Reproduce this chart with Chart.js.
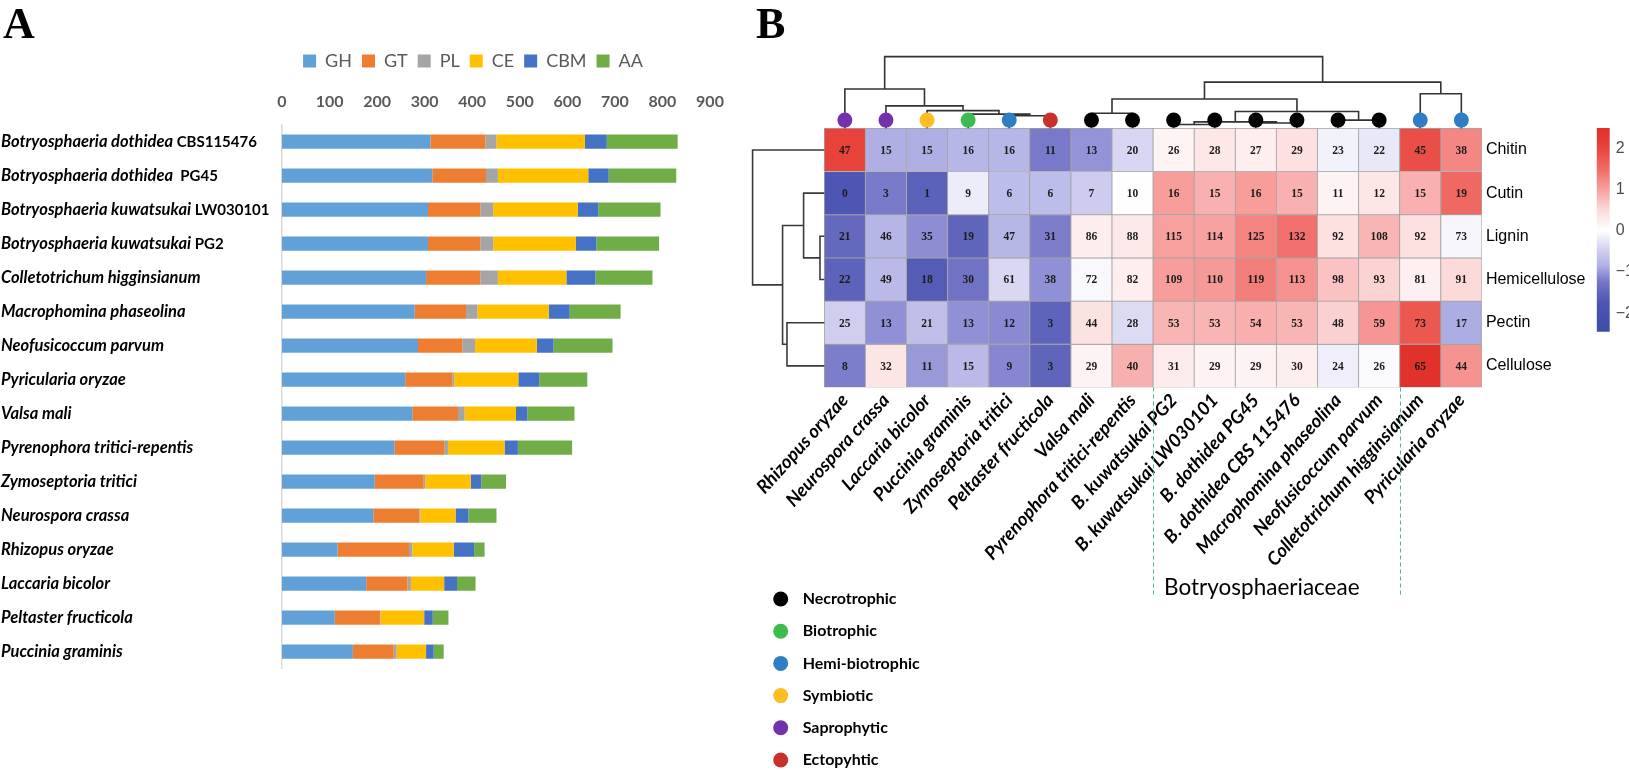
<!DOCTYPE html>
<html><head><meta charset="utf-8">
<script src="https://cdn.jsdelivr.net/npm/chart.js@4.4.1/dist/chart.umd.min.js"></script>
<style>
body{margin:0;background:#fff;width:1629px;height:770px;overflow:hidden;position:relative}
canvas{position:absolute}
</style>
</head><body>
<canvas id="cA" width="740" height="770" style="left:0;top:0"></canvas>
<canvas id="cB" width="889" height="770" style="left:740px;top:0"></canvas>
<canvas id="cC" width="39" height="260" style="left:1590px;top:100px"></canvas>
<canvas id="cD" width="260" height="215" style="left:740px;top:555px"></canvas>
<script>
// ---------- Panel A data ----------
const genomeSpecies = ["Botryosphaeria dothidea","Botryosphaeria dothidea","Botryosphaeria kuwatsukai","Botryosphaeria kuwatsukai","Colletotrichum higginsianum","Macrophomina phaseolina","Neofusicoccum parvum","Pyricularia oryzae","Valsa mali","Pyrenophora tritici-repentis","Zymoseptoria tritici","Neurospora crassa","Rhizopus oryzae","Laccaria bicolor","Peltaster fructicola","Puccinia graminis"];
const genomeStrain = [" CBS115476","  PG45"," LW030101"," PG2","","","","","","","","","","","",""];
const cazyFamilies = ["GH","GT","PL","CE","CBM","AA"];
const GH  = [312,316,307,307,303,279,286,259,274,237,195,192,117,177,111,149];
const GT  = [116,113,110,110,114,108,93,99,96,104,103,97,150,87,95,86];
const PL  = [23,25,27,27,37,24,27,4,14,8,3,2,7,7,1,6];
const CE  = [186,190,178,174,144,150,130,135,108,119,96,74,87,70,92,62];
const CBM = [46,43,43,43,61,44,35,44,24,28,22,27,43,27,18,16];
const AA  = [149,142,131,132,120,107,124,101,99,114,52,59,22,39,33,21];
const axisTicksA = [0,100,200,300,400,500,600,700,800,900];

// ---------- Panel B data ----------
const heatSpecies = ["Rhizopus oryzae","Neurospora crassa","Laccaria bicolor","Puccinia graminis","Zymoseptoria tritici","Peltaster fructicola","Valsa mali","Pyrenophora tritici-repentis","B. kuwatsukai PG2","B. kuwatsukai LW030101","B. dothidea PG45","B. dothidea CBS 115476","Macrophomina phaseolina","Neofusicoccum parvum","Colletotrichum higginsianum","Pyricularia oryzae"];
const substrates = ["Chitin","Cutin","Lignin","Hemicellulose","Pectin","Cellulose"];
const chitin        = [47,15,15,16,16,11,13,20,26,28,27,29,23,22,45,38];
const cutin         = [0,3,1,9,6,6,7,10,16,15,16,15,11,12,15,19];
const lignin        = [21,46,35,19,47,31,86,88,115,114,125,132,92,108,92,73];
const hemicellulose = [22,49,18,30,61,38,72,82,109,110,119,113,98,93,81,91];
const pectin        = [25,13,21,13,12,3,44,28,53,53,54,53,48,59,73,17];
const cellulose     = [8,32,11,15,9,3,29,40,31,29,29,30,24,26,65,44];
const lifestyles = ["Necrotrophic","Biotrophic","Hemi-biotrophic","Symbiotic","Saprophytic","Ectopyhtic"];
const speciesLifestyle = ["Saprophytic","Saprophytic","Symbiotic","Biotrophic","Hemi-biotrophic","Ectopyhtic","Necrotrophic","Necrotrophic","Necrotrophic","Necrotrophic","Necrotrophic","Necrotrophic","Necrotrophic","Necrotrophic","Hemi-biotrophic","Hemi-biotrophic"];
// dendrograms: leaves are column / row indices, h = merge height
const colDendrogram = {h:1.66, l:{h:0.91, l:0, r:{h:0.52, l:1, r:{h:0.41, l:2, r:{h:0.33, l:3, r:{h:0.29, l:4, r:5}}}}},
  r:{h:1.07, l:{h:0.68, l:{h:0.35, l:6, r:7}, r:{h:0.39, l:{h:0.15, l:{h:0.09, l:8, r:9}, r:{h:0.125, l:10, r:11}}, r:{h:0.19, l:12, r:13}}}, r:{h:0.80, l:14, r:15}}};
const rowDendrogram = {h:1.745, l:0, r:{h:1.015, l:{h:0.504, l:1, r:{h:0.105, l:2, r:3}}, r:{h:0.908, l:4, r:5}}};
const familyGroup = {name:"Botryosphaeriaceae", from:8, to:13};
const colorbarRange = [-2.45, 2.49];
const colorbarTicks = [2,1,0,-1,-2];

// ---------- styles ----------
const familyColors = ["#62a0d8","#ed7d31","#a5a5a5","#ffc000","#4472c4","#70ad47"];
const lifestyleColors = {"Necrotrophic":"#000000","Biotrophic":"#3dbb4f","Hemi-biotrophic":"#2f7ec3","Symbiotic":"#fdbd23","Saprophytic":"#7432aa","Ectopyhtic":"#c9302c"};
const zStops = [[-2.45,'#3a4ea6'],[-1.75,'#4c56b2'],[-1.25,'#7475c6'],[-1.05,'#9192d6'],[-0.85,'#b0b0e4'],[-0.4,'#d8d6f2'],[0,'#ffffff'],[0.5,'#fcdada'],[1,'#f7a09e'],[1.5,'#f06b66'],[2,'#e8453c'],[2.49,'#e0302a']];
const LATO = "Lato, 'Liberation Sans', sans-serif";

function hex2rgb(h){return [parseInt(h.slice(1,3),16),parseInt(h.slice(3,5),16),parseInt(h.slice(5,7),16)];}
function zColor(z){
  if (z <= zStops[0][0]) return zStops[0][1];
  for (let i=1;i<zStops.length;i++){
    if (z <= zStops[i][0]){
      const [z0,c0]=zStops[i-1],[z1,c1]=zStops[i];
      const t=(z-z0)/(z1-z0), a=hex2rgb(c0), b=hex2rgb(c1);
      return 'rgb('+a.map((v,k)=>Math.round(v+(b[k]-v)*t)).join(',')+')';
    }
  }
  return zStops[zStops.length-1][1];
}
function zscores(arr){
  const m=arr.reduce((s,v)=>s+v,0)/arr.length;
  const sd=Math.sqrt(arr.reduce((s,v)=>s+(v-m)*(v-m),0)/(arr.length-1));
  return arr.map(v=>(v-m)/sd);
}
function noPad(a){a.paddingLeft=0;a.paddingRight=0;a.paddingTop=0;a.paddingBottom=0;}

// ---------- Panel A ----------
const seriesA = [GH,GT,PL,CE,CBM,AA];
const labelsPluginA = {
  id:'labelsA',
  afterDraw(chart){
    const ctx=chart.ctx, ys=chart.scales.y;
    ctx.save();
    ctx.fillStyle='#000'; ctx.textBaseline='middle'; ctx.textAlign='left';
    genomeSpecies.forEach((s,i)=>{
      const py=ys.getPixelForValue(i);
      ctx.font="italic bold 16.5px "+LATO;
      ctx.fillText(s,1,py);
      const w=ctx.measureText(s).width;
      ctx.font="bold 15px "+LATO;
      ctx.fillText(genomeStrain[i],1+w,py);
    });
    ctx.font="bold 44px 'Liberation Serif', serif";
    ctx.textBaseline='alphabetic';
    ctx.fillText('A',3,38);
    ctx.restore();
  }
};
new Chart(document.getElementById('cA'),{
  type:'bar',
  data:{
    labels: genomeSpecies.map((s,i)=>s+genomeStrain[i]),
    datasets: cazyFamilies.map((f,k)=>({label:f, data:seriesA[k], backgroundColor:familyColors[k], borderWidth:0, barPercentage:0.42, categoryPercentage:1}))
  },
  options:{
    indexAxis:'y', responsive:false, animation:false,
    layout:{padding:{top:42,left:236,right:30,bottom:101.4}},
    plugins:{
      legend:{position:'top', labels:{boxWidth:13, boxHeight:13, padding:10, color:'#595959', font:{family:LATO, size:18}}},
      tooltip:{enabled:false}
    },
    scales:{
      x:{position:'top', stacked:true, min:0, max:900,
         afterBuildTicks:a=>{a.ticks=axisTicksA.map(v=>({value:v}));},
         grid:{display:false, drawTicks:false}, border:{display:false},
         ticks:{padding:13, color:'#595959', font:{family:LATO, size:16, weight:'bold'}},
         afterFit:a=>{a.height=44.7; noPad(a);}},
      y:{stacked:true, grid:{display:false, drawTicks:false},
         border:{display:true, color:'#d9d9d9', width:1.5},
         ticks:{display:false}, afterFit:a=>{a.width=46; noPad(a);}}
    }
  },
  plugins:[labelsPluginA]
});

// ---------- Panel B ----------
const heatRows=[chitin,cutin,lignin,hemicellulose,pectin,cellulose];
function layoutTree(node, pts, leafPos){
  if (typeof node==='number') return {p:leafPos(node), h:0};
  const a=layoutTree(node.l,pts,leafPos), b=layoutTree(node.r,pts,leafPos);
  pts.push([a.p,a.h],[a.p,node.h],[b.p,node.h],[b.p,b.h],null);
  return {p:(a.p+b.p)/2, h:node.h};
}
const colPts=[]; layoutTree(colDendrogram,colPts,i=>i);
const rowPts=[]; layoutTree(rowDendrogram,rowPts,r=>5.5-r);
const topLine = colPts.map(p=>p?{x:p[0],y:6+p[1]}:{x:0,y:null});
const leftLine = rowPts.map(p=>p?{x:-0.5-p[1],y:p[0]}:{x:0,y:null});
const dotLevel = 6.19;

const heatDatasets = heatRows.map((vals,r)=>{
  const z=zscores(vals);
  return {type:'bar', label:substrates[r], heatRow:r,
    data: vals.map((v,i)=>({x:i, y:[5-r,6-r]})),
    backgroundColor: z.map(zColor), borderColor:'#a3a3a3', borderWidth:0.8, borderSkipped:false,
    barPercentage:1, categoryPercentage:1, stack:'heat', order:5};
});

const heatPlugin = {
  id:'heatText',
  afterDatasetsDraw(chart){
    const ctx=chart.ctx;
    ctx.save();
    ctx.textAlign='center'; ctx.textBaseline='middle';
    ctx.font="bold 11.5px 'Liberation Serif', serif"; ctx.fillStyle='#1c1c1c';
    chart.data.datasets.forEach((ds,di)=>{
      if (ds.heatRow===undefined) return;
      const meta=chart.getDatasetMeta(di);
      meta.data.forEach((el,i)=>{
        ctx.fillText(String(heatRows[ds.heatRow][i]), el.x, (el.y+el.base)/2+1);
      });
    });
    ctx.restore();
  },
  afterDraw(chart){
    const ctx=chart.ctx, xs=chart.scales.x, ys=chart.scales.y;
    const x1=xs.getPixelForValue(familyGroup.from-0.5), x2=xs.getPixelForValue(familyGroup.to+0.5);
    const yb=ys.getPixelForValue(0);
    ctx.save();
    ctx.strokeStyle='#48bb8e'; ctx.lineWidth=1; ctx.setLineDash([4,3]);
    [x1,x2].forEach(x=>{ctx.beginPath(); ctx.moveTo(Math.round(x)+0.5,yb); ctx.lineTo(Math.round(x)+0.5,597); ctx.stroke();});
    ctx.setLineDash([]);
    ctx.fillStyle='#000'; ctx.textBaseline='middle'; ctx.textAlign='left';
    ctx.font="22.5px "+LATO;
    ctx.fillText(familyGroup.name, x1+11, 588);
    ctx.font="bold 44px 'Liberation Serif', serif"; ctx.textBaseline='alphabetic';
    ctx.fillText('B',16,38);
    ctx.restore();
  }
};

new Chart(document.getElementById('cB'),{
  type:'bar',
  data:{datasets:[
    {type:'scatter', label:'lifestyle', data:heatSpecies.map((s,i)=>({x:i,y:dotLevel})),
     pointRadius:7.5, pointHoverRadius:7.5, pointBorderWidth:0,
     pointBackgroundColor: speciesLifestyle.map(l=>lifestyleColors[l]), order:0, clip:false},
    {type:'line', label:'colDendro', data:topLine, borderColor:'#333', borderWidth:1.6, pointRadius:0, spanGaps:false, tension:0, fill:false, order:1},
    {type:'line', label:'rowDendro', data:leftLine, borderColor:'#3a3a3a', borderWidth:1.6, pointRadius:0, spanGaps:false, tension:0, fill:false, order:1},
    ...heatDatasets
  ]},
  options:{
    responsive:false, animation:false,
    layout:{padding:{left:10.32, top:54.9, right:0, bottom:0}},
    plugins:{legend:{display:false}, tooltip:{enabled:false}},
    scales:{
      x:{type:'linear', min:-2.3, max:15.5, stacked:true, offset:false,
         afterBuildTicks:a=>{a.ticks=heatSpecies.map((_,i)=>({value:i}));},
         ticks:{autoSkip:false, minRotation:48, maxRotation:48, padding:2, color:'#000',
                font:{family:LATO, size:18.5, weight:'bold', style:'italic'},
                callback:v=>heatSpecies[v]},
         grid:{display:false, drawTicks:false}, border:{display:false},
         afterFit:a=>{a.height=382.5; noPad(a);}},
      y:{type:'linear', position:'right', min:0, max:7.7, stacked:false,
         afterBuildTicks:a=>{a.ticks=substrates.map((_,r)=>({value:5.5-r}));},
         ticks:{padding:4, color:'#000', font:{family:"'Liberation Sans', Arial, sans-serif", size:16},
                callback:v=>substrates[Math.round(5.5-v)]},
         grid:{display:false, drawTicks:false}, border:{display:false},
         afterFit:a=>{a.width=147.1; noPad(a);}}
    }
  },
  plugins:[heatPlugin]
});

// ---------- colour bar ----------
new Chart(document.getElementById('cC'),{
  type:'bar',
  data:{labels:['z'], datasets:[{data:[colorbarRange], borderWidth:0, barPercentage:1, categoryPercentage:1,
    backgroundColor:(c)=>{
      const ch=c.chart, area=ch.chartArea;
      if(!area) return '#ffffff';
      const ys=ch.scales.y;
      const g=ch.ctx.createLinearGradient(0,ys.getPixelForValue(colorbarRange[1]),0,ys.getPixelForValue(colorbarRange[0]));
      zStops.slice().reverse().forEach(([z,col])=>g.addColorStop(Math.min(1,Math.max(0,(colorbarRange[1]-z)/(colorbarRange[1]-colorbarRange[0]))),col));
      return g;
    }}]},
  options:{responsive:false, animation:false,
    layout:{padding:{left:6.7, top:28, bottom:28.3, right:0}},
    plugins:{legend:{display:false}, tooltip:{enabled:false}},
    scales:{
      x:{display:false},
      y:{position:'right', min:colorbarRange[0], max:colorbarRange[1],
         afterBuildTicks:a=>{a.ticks=colorbarTicks.map(v=>({value:v}));},
         ticks:{padding:6, color:'#4d4d4d', font:{family:"'Liberation Sans', Arial, sans-serif", size:16},
                callback:v=> v<0 ? '\u2212'+Math.abs(v) : String(v)},
         grid:{display:false, drawTicks:false}, border:{display:false},
         afterFit:a=>{a.width=19.3; noPad(a);}}
    }}
});

// ---------- lifestyle legend ----------
new Chart(document.getElementById('cD'),{
  type:'scatter',
  data:{datasets:[{data:lifestyles.map(l=>({x:0,y:l})), pointRadius:7.5, pointHoverRadius:7.5, pointBorderWidth:0,
    pointBackgroundColor:lifestyles.map(l=>lifestyleColors[l]), clip:false}]},
  options:{responsive:false, animation:false,
    layout:{padding:{left:18.7, top:44, bottom:10, right:0}},
    plugins:{legend:{display:false}, tooltip:{enabled:false}},
    scales:{
      x:{type:'linear', display:false, min:-1, max:1},
      y:{type:'category', labels:lifestyles, offset:false, position:'right',
         ticks:{padding:0, color:'#000', font:{family:LATO, size:16, weight:'bold'}},
         grid:{display:false, drawTicks:false}, border:{display:false},
         afterFit:a=>{a.width=197.3; noPad(a);}}
    }}
});
</script>
</body></html>
